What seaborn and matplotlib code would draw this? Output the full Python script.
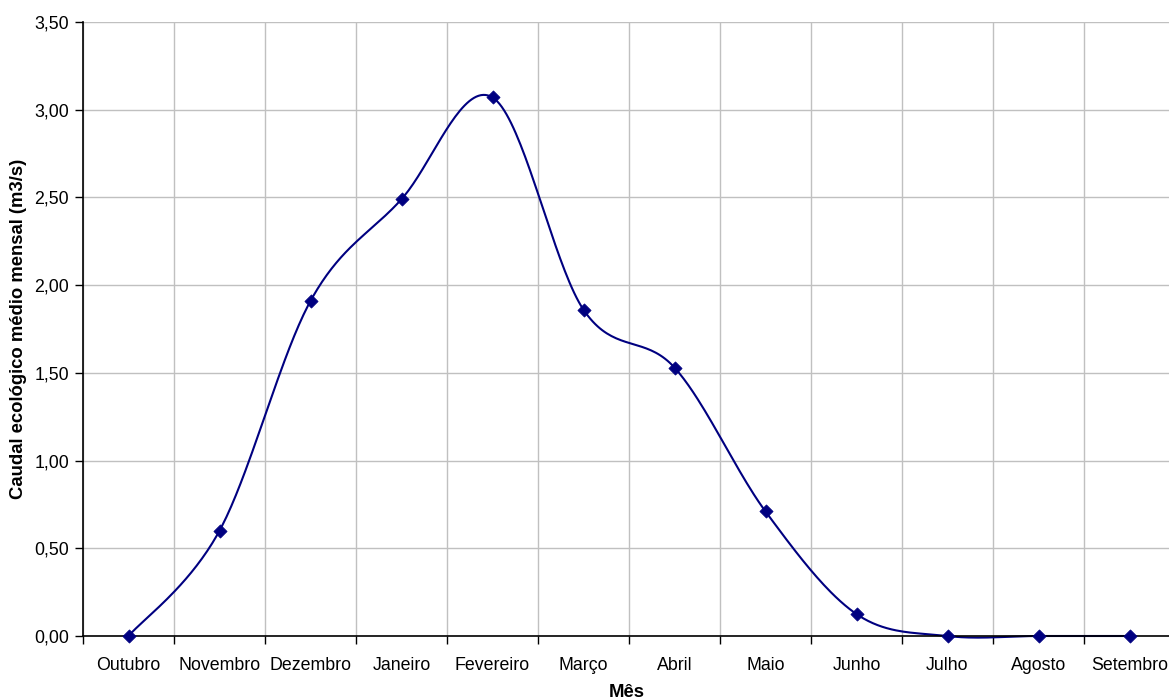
import matplotlib
matplotlib.use("Agg")
import matplotlib.pyplot as plt
import seaborn as sns
import numpy as np
import pandas as pd

# Monthly ecological flow (m3/s)
meses = ['Outubro', 'Novembro', 'Dezembro', 'Janeiro', 'Fevereiro', 'Março',
         'Abril', 'Maio', 'Junho', 'Julho', 'Agosto', 'Setembro']
caudal = [0.0, 0.60, 1.91, 2.49, 3.07, 1.86, 1.53, 0.71, 0.125, 0.0, 0.0, 0.0]
yticks = [0.0, 0.5, 1.0, 1.5, 2.0, 2.5, 3.0, 3.5]

sns.set_theme(style="white")
plt.rcParams['font.family'] = ['Liberation Sans', 'DejaVu Sans']
plt.rcParams['text.color'] = 'black'
plt.rcParams['xtick.color'] = 'black'
plt.rcParams['ytick.color'] = 'black'
plt.rcParams['axes.labelcolor'] = 'black'

df = pd.DataFrame({'x': np.arange(len(meses)), 'y': caudal})


# Excel-style smoothed line (cubic Bezier through the points)
def smooth(x, y, n=40):
    px, py = [], []
    m = len(x)
    for i in range(m - 1):
        x0, y0 = (x[i - 1], y[i - 1]) if i > 0 else (x[i], y[i])
        x3, y3 = (x[i + 2], y[i + 2]) if i + 2 < m else (x[i + 1], y[i + 1])
        c1x = x[i] + (x[i + 1] - x0) / 6
        c1y = y[i] + (y[i + 1] - y0) / 6
        c2x = x[i + 1] - (x3 - x[i]) / 6
        c2y = y[i + 1] - (y3 - y[i]) / 6
        t = np.linspace(0, 1, n)
        a, b, c, d = (1 - t) ** 3, 3 * (1 - t) ** 2 * t, 3 * (1 - t) * t ** 2, t ** 3
        px.extend(a * x[i] + b * c1x + c * c2x + d * x[i + 1])
        py.extend(a * y[i] + b * c1y + c * c2y + d * y[i + 1])
    return pd.DataFrame({'x': px, 'y': py})


curve = smooth(df['x'].values.astype(float), df['y'].values.astype(float))

fig = plt.figure(figsize=(11.69, 6.99), dpi=100)
ax = fig.add_axes([83 / 1169, 63 / 699, 1092 / 1169, 614 / 699])

sns.lineplot(data=curve, x='x', y='y', sort=False, color='#000080',
             linewidth=1.5, ax=ax, zorder=3, clip_on=False)
sns.scatterplot(data=df, x='x', y='y', marker='D', s=45, color='#000080',
                edgecolor='#000080', ax=ax, zorder=6, clip_on=False)

ax.set_xlim(-0.5, len(meses) - 0.5)
ax.set_ylim(0, 3.5)

# gridlines at category boundaries
ax.set_xticks(np.arange(len(meses) + 1) - 0.5)
ax.set_xticklabels([])
ax.set_xticks(np.arange(len(meses)), minor=True)
ax.set_xticklabels(meses, minor=True, fontsize=12.8)
ax.tick_params(axis='x', which='minor', length=0, pad=15)
ax.tick_params(axis='x', which='major', direction='out', length=6, width=1,
               color='black', bottom=True)

ax.set_yticks(yticks)
ax.set_yticklabels([f'{v:.2f}'.replace('.', ',') for v in yticks], fontsize=12.8)
ax.tick_params(axis='y', direction='out', length=6, width=1, color='black',
               left=True, pad=4)

ax.grid(True, which='major', color='#c0c0c0', linewidth=1)
ax.set_axisbelow(True)

for s in ['top', 'right']:
    ax.spines[s].set_visible(False)
for s in ['left', 'bottom']:
    ax.spines[s].set_color('black')
    ax.spines[s].set_linewidth(1.2)
    ax.spines[s].set_zorder(5)

ax.set_xlabel('Mês', fontsize=13.3, fontweight='bold')
ax.set_ylabel('Caudal ecológico médio mensal (m3/s)', fontsize=13.3,
              fontweight='bold')
ax.xaxis.set_label_coords(0.5 - 0.5 * 5 / 1092, -48 / 614)
ax.yaxis.set_label_coords(-56 / 1092, 0.5)

fig.savefig('out.png', dpi=100)
